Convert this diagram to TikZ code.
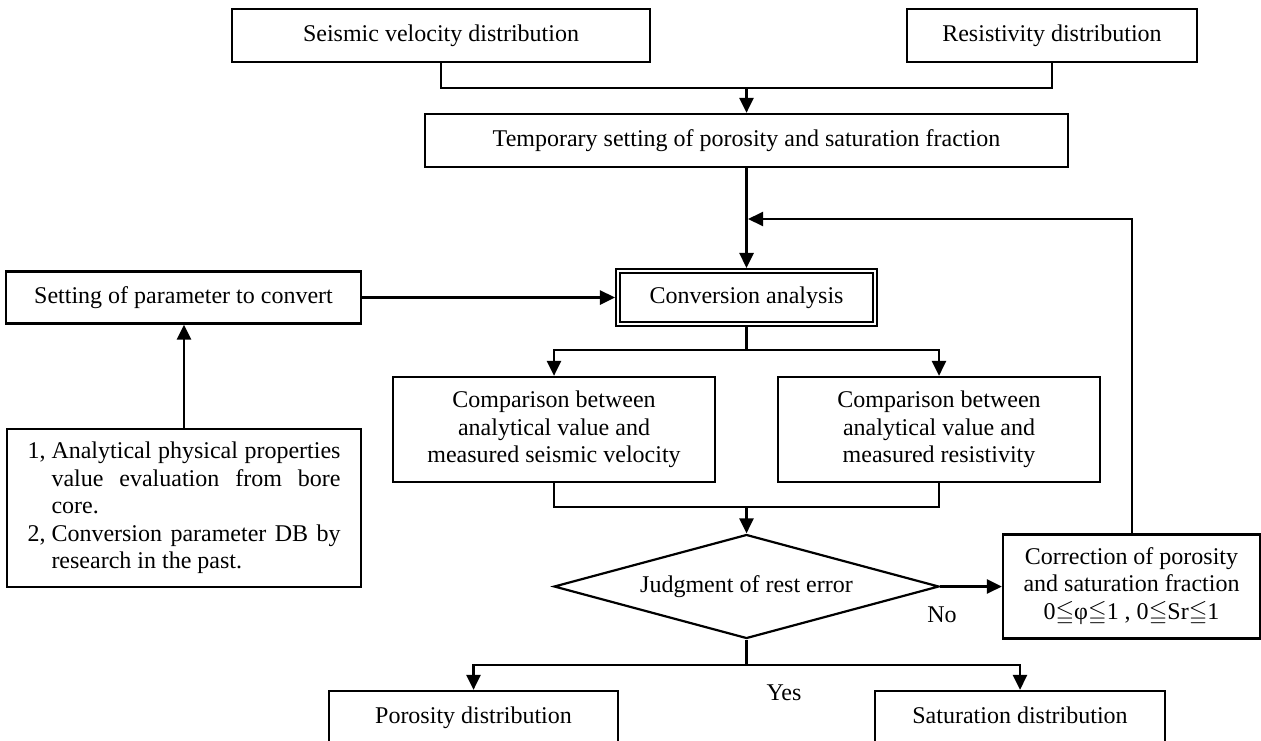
\documentclass[tikz,border=0pt]{standalone}
\usepackage{fontspec}
\setmainfont{Liberation Serif}
\usepackage{amssymb}
\usetikzlibrary{arrows.meta,shapes.geometric}
\tikzset{
  >={Triangle[length=15pt,width=14pt]},
}
\tikzstyle{every node}=[font=\fontsize{24}{27.5}\selectfont]
\tikzstyle{box}=[draw,line width=2.2pt,inner sep=0pt,align=center]
\tikzstyle{dbox}=[box,double,line width=1.6pt,double distance=2.4pt,outer sep=2.8pt]
\tikzstyle{link}=[line width=2.7pt]
\newcommand{\itemline}[2]{\noindent\makebox[24pt][l]{#1}\parbox[t]{289pt}{\strut #2\strut}\par}

\begin{document}
\begin{tikzpicture}[x=1pt,y=-1pt]
  \clip (0,0) rectangle (1261,740);
  % boxes
  \node[box,minimum width=418,minimum height=53] (seis) at (441,35.5) {Seismic velocity distribution};
  \node[box,minimum width=290,minimum height=53] (resis) at (1052,35.5) {Resistivity distribution};
  \node[box,minimum width=643,minimum height=53] (temp) at (746.5,140.5) {Temporary setting of porosity and saturation fraction};
  \node[dbox,minimum width=257.5,minimum height=53.5] (conv) at (746.5,297.5) {Conversion analysis};
  \node[box,minimum width=355,minimum height=52] (setp) at (183.5,297.5) {Setting of parameter to convert};
  \node[box,minimum width=354,minimum height=158] (anal) at (184,508)
    {\parbox{313pt}{\lineskip=0pt
     \itemline{1,}{Analytical physical properties\linebreak value evaluation from bore\linebreak core.}
     \itemline{2,}{Conversion parameter DB by\linebreak research in the past.}}};
  \node[box,minimum width=322,minimum height=105] (cmpv) at (554,429.5) {Comparison between\\analytical value and\\measured seismic velocity};
  \node[box,minimum width=322,minimum height=105] (cmpr) at (939,429.5) {Comparison between\\analytical value and\\measured resistivity};
  \node[box,shape=diamond,aspect=3.7,minimum width=385,minimum height=104] (judge) at (746.5,586.5) {Judgment of rest error};
  \node[box,minimum width=257,minimum height=104] (corr) at (1131.5,586.5) {Correction of porosity\\and saturation fraction\\0$\leqq$φ$\leqq$1 , 0$\leqq$Sr$\leqq$1};
  \node[box,minimum width=289,minimum height=54,text height=17pt,text depth=6pt] (poro) at (473.5,718) {Porosity distribution};
  \node[box,minimum width=290,minimum height=54,text height=17pt,text depth=6pt] (satu) at (1020,718) {Saturation distribution};
  \node (no) at (942,615) {No};
  \node (yes) at (784,693) {Yes};
  % branch points
  \coordinate (j1) at (746.5,88);
  \coordinate (j2) at (746.5,350);
  \coordinate (j3) at (746.5,507);
  \coordinate (j4) at (746.5,665);
  \coordinate (fb) at (748,219);
  % connectors
  \draw[link] (seis.south) |- (j1) -| (resis.south);
  \draw[link,->] (j1) -- (temp.north);
  \draw[link,->] (temp.south) -- (conv.north);
  \draw[line width=2pt,->] (corr.north) |- (fb);
  \draw[link,->] (setp.east) -- (setp.east -| conv.west);
  \draw[link,->] (anal.north) -- (anal.north |- setp.south);
  \draw[link] (conv.south) -- (j2);
  \draw[link,->] (j2) -| (cmpv.north);
  \draw[link,->] (j2) -| (cmpr.north);
  \draw[link] (cmpv.south) |- (j3) -| (cmpr.south);
  \draw[link,->] (j3) -- (judge.north);
  \draw[link,->] (judge.east) -- (corr.west);
  \draw[link] (judge.south) -- (j4);
  \draw[link,->] (j4) -| (poro.north);
  \draw[link,->] (j4) -| (satu.north);
\end{tikzpicture}
\end{document}
